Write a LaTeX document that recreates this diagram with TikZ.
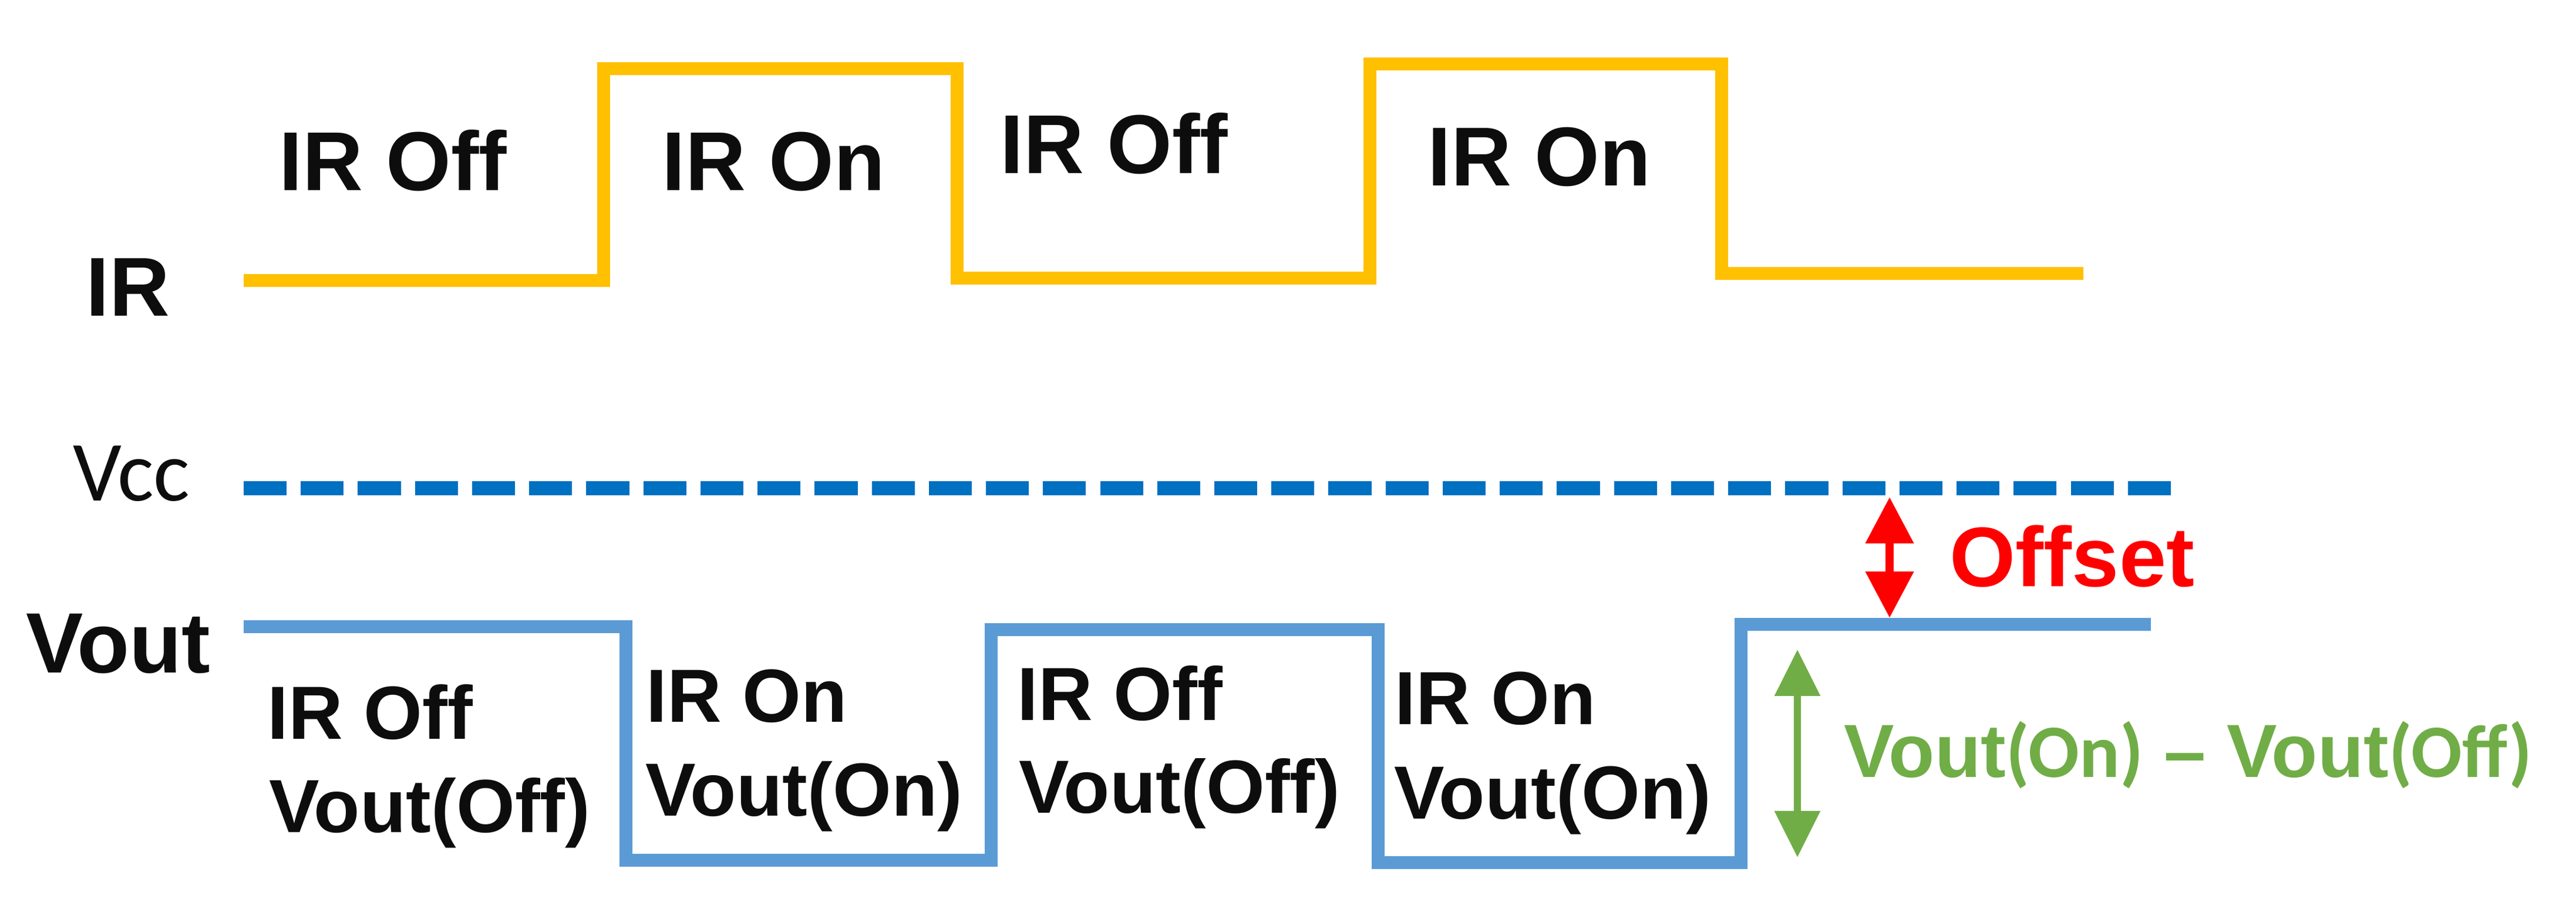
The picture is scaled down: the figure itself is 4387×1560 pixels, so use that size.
\documentclass[tikz,border=0pt]{standalone}
\usepackage{fontspec}
\setmainfont{Liberation Sans}
\newfontfamily\calib{Carlito}
\usetikzlibrary{arrows.meta}
\definecolor{irY}{HTML}{FFC000}
\definecolor{vccB}{HTML}{0070C0}
\definecolor{voutB}{HTML}{5B9BD5}
\definecolor{offR}{HTML}{FF0000}
\definecolor{diffG}{HTML}{70AD47}
\definecolor{txt}{HTML}{0D0D0D}
\begin{document}
\begin{tikzpicture}[x=0.01cm,y=-0.01cm,
  big/.style={inner sep=0pt, anchor=base west, text=txt, font=\bfseries\fontsize{40.5}{48}\selectfont},
  mid/.style={inner sep=0pt, anchor=base west, text=txt, font=\bfseries\fontsize{36.5}{44}\selectfont},
  wave/.style={line width=6.5pt, line join=miter, line cap=butt},
  tipR/.style={{Triangle[length=22.5pt,width=22.5pt]}-{Triangle[length=22.5pt,width=22.5pt]}},
  tipG/.style={{Triangle[length=22.5pt,width=21.5pt]}-{Triangle[length=22.5pt,width=21.5pt]}},
]
\useasboundingbox (0,0) rectangle (4387,1560);

% labels on the left
\node[big] (irlab) at (146,538) {IR};
\node[inner sep=0pt, anchor=base west, text=txt, font=\calib\fontsize{41.5}{48}\selectfont] (vcclab) at (124,853) {Vcc};
\node[big, font=\bfseries\fontsize{41.5}{48}\selectfont] (voutlab) at (44,1146) {Vout};

% IR waveform
\draw[wave, irY] (415,478) -- (1028,478) -- (1028,117) -- (1630,117) -- (1630,474)
  -- (2333,474) -- (2333,109) -- (2932,109) -- (2932,466) -- (3548,466);

% IR state labels
\node[big] (t1) at (475,324) {IR Off};
\node[big] (t2) at (1127,324) {IR On};
\node[big] (t3) at (1703,295) {IR Off};
\node[big] (t4) at (2431,316) {IR On};

% Vcc dashed line
\draw[vccB, line width=6.8pt, dash pattern=on 20.8pt off 6.85pt] (415,832) -- (3699,832);

% Vout waveform
\draw[wave, voutB] (415,1068) -- (1066,1068) -- (1066,1466) -- (1688,1466) -- (1688,1073)
  -- (2347,1073) -- (2347,1470) -- (2965,1470) -- (2965,1064) -- (3663,1064);

% Vout section labels
\node[mid] (s1a) at (455,1259) {IR Off};
\node[mid] (s1b) at (458,1418) {Vout(Off)};
\node[mid] (s2a) at (1100,1230) {IR On};
\node[mid] (s2b) at (1099,1390) {Vout(On)};
\node[mid] (s3a) at (1732,1227) {IR Off};
\node[mid] (s3b) at (1735,1385) {Vout(Off)};
\node[mid] (s4a) at (2375,1234) {IR On};
\node[mid] (s4b) at (2374,1395) {Vout(On)};

% Offset arrow
\coordinate (offtop) at (3218,847);
\coordinate (offbot) at (3218,1053);
\draw[offR, line width=4pt, tipR] (offtop) -- (offbot);
\node[inner sep=0pt, anchor=base west, text=offR, font=\bfseries\fontsize{41}{48}\selectfont] (offlab) at (3320,999) {Offset};

% Difference arrow
\coordinate (dtop) at (3061,1107);
\coordinate (dbot) at (3061,1461);
\draw[diffG, line width=3.2pt, tipG] (dtop) -- (dbot);
\node[inner sep=0pt, anchor=base west, text=diffG, font=\bfseries\fontsize{36.5}{44}\selectfont] (difflab) at (3140,1324)
  {Vout{\calib(On)} – Vout{\calib(Off)}};
\end{tikzpicture}
\end{document}
